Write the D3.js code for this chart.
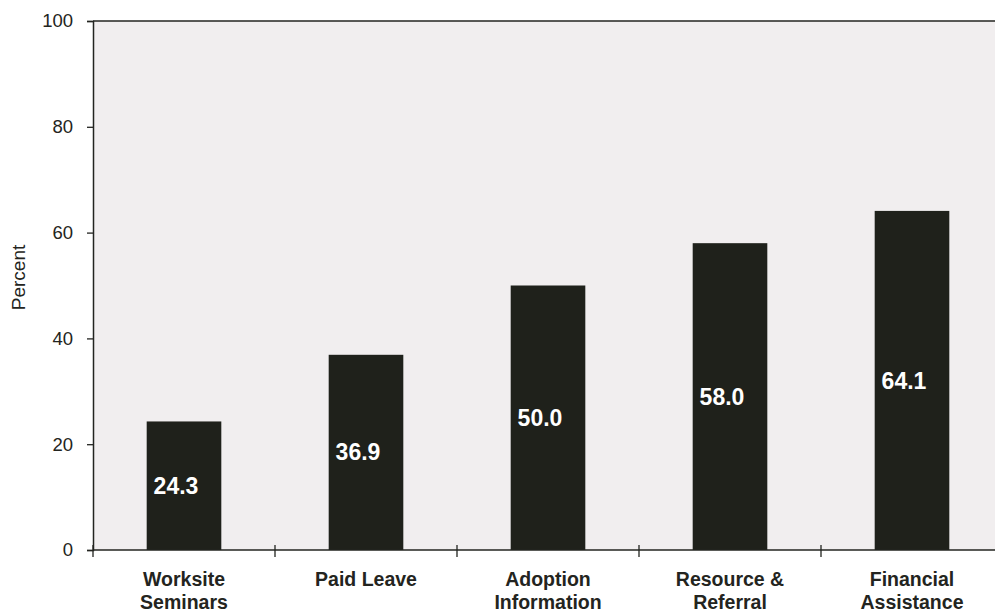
<!DOCTYPE html>
<html>
<head>
<meta charset="utf-8">
<script src="https://cdn.jsdelivr.net/npm/d3@7"></script>
<style>
  html, body { margin: 0; padding: 0; background: #ffffff; }
  svg { display: block; }
  text { font-family: "Liberation Sans", Arial, Helvetica, sans-serif; }
</style>
</head>
<body>
<svg id="chart" width="995" height="613"></svg>
<script>
// Categories (two-line labels) and their percentages
const categories = [
  ["Worksite", "Seminars"],
  ["Paid Leave"],
  ["Adoption", "Information"],
  ["Resource &", "Referral"],
  ["Financial", "Assistance"]
];
const values = [24.3, 36.9, 50.0, 58.0, 64.1];
const valueLabels = ["24.3", "36.9", "50.0", "58.0", "64.1"];
const yTicks = [0, 20, 40, 60, 80, 100];
const yTitle = "Percent";

const svg = d3.select("#chart");
const margin = { left: 93, top: 21, bottom: 63 };
const width = 995, height = 613;
const plotRight = 1003;             // frame runs just past the page edge
const plotBottom = height - margin.bottom;

const x = d3.scaleBand()
  .domain(d3.range(values.length))
  .range([margin.left, plotRight])
  .paddingInner(0.59)
  .paddingOuter(0.295);

const y = d3.scaleLinear()
  .domain([0, 100])
  .range([plotBottom, margin.top]);

const ink = "#232420";

// Plot background
svg.append("rect")
  .attr("x", margin.left)
  .attr("y", margin.top)
  .attr("width", plotRight - margin.left)
  .attr("height", plotBottom - margin.top)
  .attr("fill", "#f1eeef");

// Bars
svg.append("g").selectAll("rect")
  .data(values)
  .join("rect")
  .attr("x", (d, i) => x(i))
  .attr("y", d => y(d))
  .attr("width", x.bandwidth())
  .attr("height", d => y(0) - y(d))
  .attr("fill", "#1f211b");

// Value labels inside the bars
svg.append("g").selectAll("text")
  .data(values)
  .join("text")
  .attr("x", (d, i) => x(i) + x.bandwidth() / 2 - 8)
  .attr("y", d => y(d / 2))
  .attr("dy", "0.35em")
  .attr("text-anchor", "middle")
  .attr("font-size", 23)
  .attr("font-weight", "bold")
  .attr("fill", "#ffffff")
  .text((d, i) => valueLabels[i]);

// Frame: top and left borders
svg.append("line")
  .attr("x1", margin.left).attr("x2", plotRight)
  .attr("y1", margin.top).attr("y2", margin.top)
  .attr("stroke", ink).attr("stroke-width", 1.5);

// Y axis
const yAxis = svg.append("g")
  .attr("transform", `translate(${margin.left},0)`)
  .call(d3.axisLeft(y).tickValues(yTicks).tickSize(6).tickPadding(14));
yAxis.select(".domain").attr("stroke", ink).attr("stroke-width", 1.5);
yAxis.selectAll(".tick line").attr("stroke", ink).attr("stroke-width", 1.3);
yAxis.selectAll(".tick text")
  .attr("font-size", 18.5)
  .attr("fill", ink)
  .attr("font-family", "Liberation Sans, Arial, sans-serif");

// X axis line with boundary ticks between categories
const step = x.step();
const boundaries = d3.range(values.length + 1).map(i => margin.left + i * step);
svg.append("line")
  .attr("x1", margin.left).attr("x2", plotRight)
  .attr("y1", plotBottom).attr("y2", plotBottom)
  .attr("stroke", ink).attr("stroke-width", 1.5);
svg.append("g").selectAll("line")
  .data(boundaries)
  .join("line")
  .attr("x1", d => d).attr("x2", d => d)
  .attr("y1", plotBottom - 5).attr("y2", plotBottom + 7)
  .attr("stroke", ink).attr("stroke-width", 1.3);

// Category labels
const catG = svg.append("g").selectAll("text")
  .data(categories)
  .join("text")
  .attr("x", (d, i) => x(i) + x.bandwidth() / 2)
  .attr("y", plotBottom + 36)
  .attr("text-anchor", "middle")
  .attr("font-size", 19.5)
  .attr("font-weight", "bold")
  .attr("fill", ink);
catG.selectAll("tspan")
  .data(d => d)
  .join("tspan")
  .attr("x", function () { return d3.select(this.parentNode).attr("x"); })
  .attr("dy", (d, i) => i === 0 ? 0 : 23)
  .text(d => d);

// Y axis title
svg.append("text")
  .attr("transform", `translate(25,${(margin.top + plotBottom) / 2 - 8}) rotate(-90)`)
  .attr("text-anchor", "middle")
  .attr("font-size", 19)
  .attr("fill", ink)
  .text(yTitle);
</script>
</body>
</html>
